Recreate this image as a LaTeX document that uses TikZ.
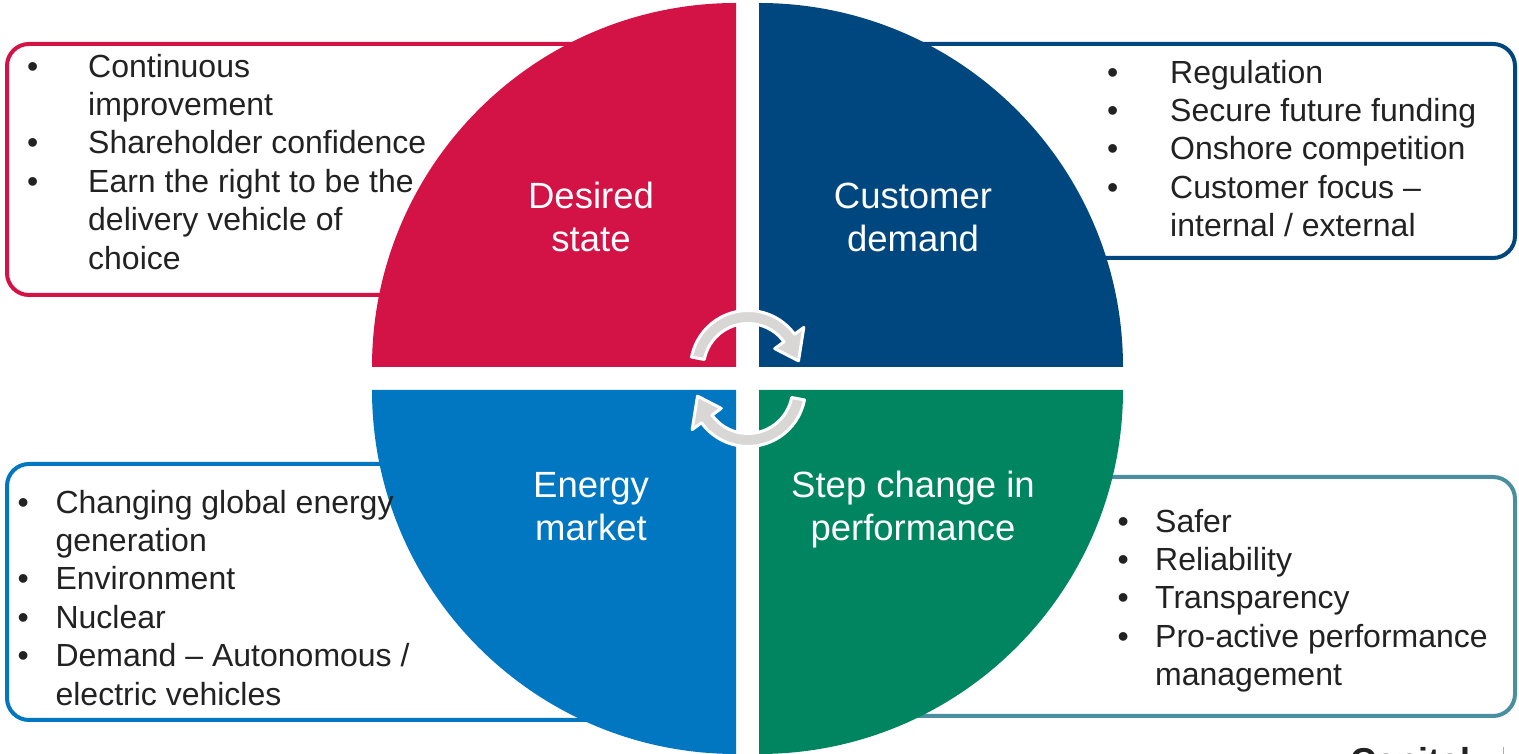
\documentclass[tikz,border=0pt]{standalone}
\usepackage{fontspec}
\setmainfont{Liberation Sans}
\usepackage{array}

\definecolor{qred}{HTML}{D31245}
\definecolor{qnavy}{HTML}{00467F}
\definecolor{qblue}{HTML}{0077C0}
\definecolor{qgreen}{HTML}{008561}
\definecolor{qteal}{HTML}{4A8FA0}
\definecolor{qgrey}{HTML}{D9D7D5}
\definecolor{qtext}{HTML}{222222}

\begin{document}
\begin{tikzpicture}[x=1pt,y=1pt,
  listbox/.style={line width=4pt, rounded corners=22pt, fill=white},
  listtext/.style={anchor=north west, inner sep=0pt, text=qtext, font=\fontsize{32}{38.4}\selectfont},
  quadtitle/.style={inner sep=0pt, text=white, font=\fontsize{36.5}{43}\selectfont},
  cyclearrow/.style={fill=qgrey, draw=white, line width=3pt, line join=round}]

\clip (0,0) rectangle (1519,754);
\fill[white] (0,0) rectangle (1519,754);

% boxes, partly under the circle
\draw[listbox, draw=qred] (7,459) rectangle (650,710);
\draw[listbox, draw=qnavy] (850,496) rectangle (1515,710);
\draw[listbox, draw=qblue] (7,34) rectangle (650,290);
\draw[listbox, draw=qteal] (850,38) rectangle (1515,277);

% the four quarters
\fill[qred] (736,387) -- (372,387) arc[start angle=180, end angle=90, radius=364] -- cycle;
\fill[qnavy] (759,387) -- (759,751) arc[start angle=90, end angle=0, radius=364] -- cycle;
\fill[qblue] (736,364) -- (736,0) arc[start angle=270, end angle=180, radius=364] -- cycle;
\fill[qgreen] (759,364) -- (1123,364) arc[start angle=0, end angle=-90, radius=364] -- cycle;

% turning arrows
\begin{scope}[shift={(748,386)}]
\filldraw[cyclearrow] (169:57.5) arc[start angle=169, end angle=36, radius=57.5] -- (36:69) -- (8:51) -- (36:33) -- (36:44.5) arc[start angle=36, end angle=169, radius=44.5] -- cycle;
\end{scope}
\begin{scope}[shift={(748,365)}, rotate=180]
\filldraw[cyclearrow] (169:57.5) arc[start angle=169, end angle=36, radius=57.5] -- (36:69) -- (8:51) -- (36:33) -- (36:44.5) arc[start angle=36, end angle=169, radius=44.5] -- cycle;
\end{scope}

% titles
\node[quadtitle] (desired) at (591,532.1) {\begin{tabular}{@{}c@{}}Desired\\state\end{tabular}};
\node[quadtitle] (customer) at (913,532.1) {\begin{tabular}{@{}c@{}}Customer\\demand\end{tabular}};
\node[quadtitle] (energy) at (591,243.1) {\begin{tabular}{@{}c@{}}Energy\\market\end{tabular}};
\node[quadtitle] (stepchange) at (913,243.1) {\begin{tabular}{@{}c@{}}Step change in\\performance\end{tabular}};

% bullet lists
\node[listtext] (desiredlist) at (27,703.9) {\begin{tabular}{@{}p{61pt}@{}l@{}}
\textbullet & Continuous\\
 & improvement\\
\textbullet & Shareholder confidence\\
\textbullet & Earn the right to be the\\
 & delivery vehicle of\\
 & choice
\end{tabular}};
\node[listtext] (customerlist) at (1107,697.9) {\begin{tabular}{@{}p{63pt}@{}l@{}}
\textbullet & Regulation\\
\textbullet & Secure future funding\\
\textbullet & Onshore competition\\
\textbullet & Customer focus --\\
 & internal / external
\end{tabular}};
\node[listtext] (energylist) at (17.4,267.9) {\begin{tabular}{@{}p{38pt}@{}l@{}}
\textbullet & Changing global energy\\
 & generation\\
\textbullet & Environment\\
\textbullet & Nuclear\\
\textbullet & Demand -- Autonomous /\\
 & electric vehicles
\end{tabular}};
\node[listtext] (steplist) at (1117.4,248.9) {\begin{tabular}{@{}p{37.6pt}@{}l@{}}
\textbullet & Safer\\
\textbullet & Reliability\\
\textbullet & Transparency\\
\textbullet & Pro-active performance\\
 & management
\end{tabular}};

% cut off at the foot, as in the source
\node[anchor=base west, inner sep=0pt, text=qtext, font=\bfseries\fontsize{36}{43}\selectfont] (capital) at (1350,-20) {Capital};
\draw[qblue!50, line width=1pt] (1503,0) -- (1503,7);
\end{tikzpicture}
\end{document}
